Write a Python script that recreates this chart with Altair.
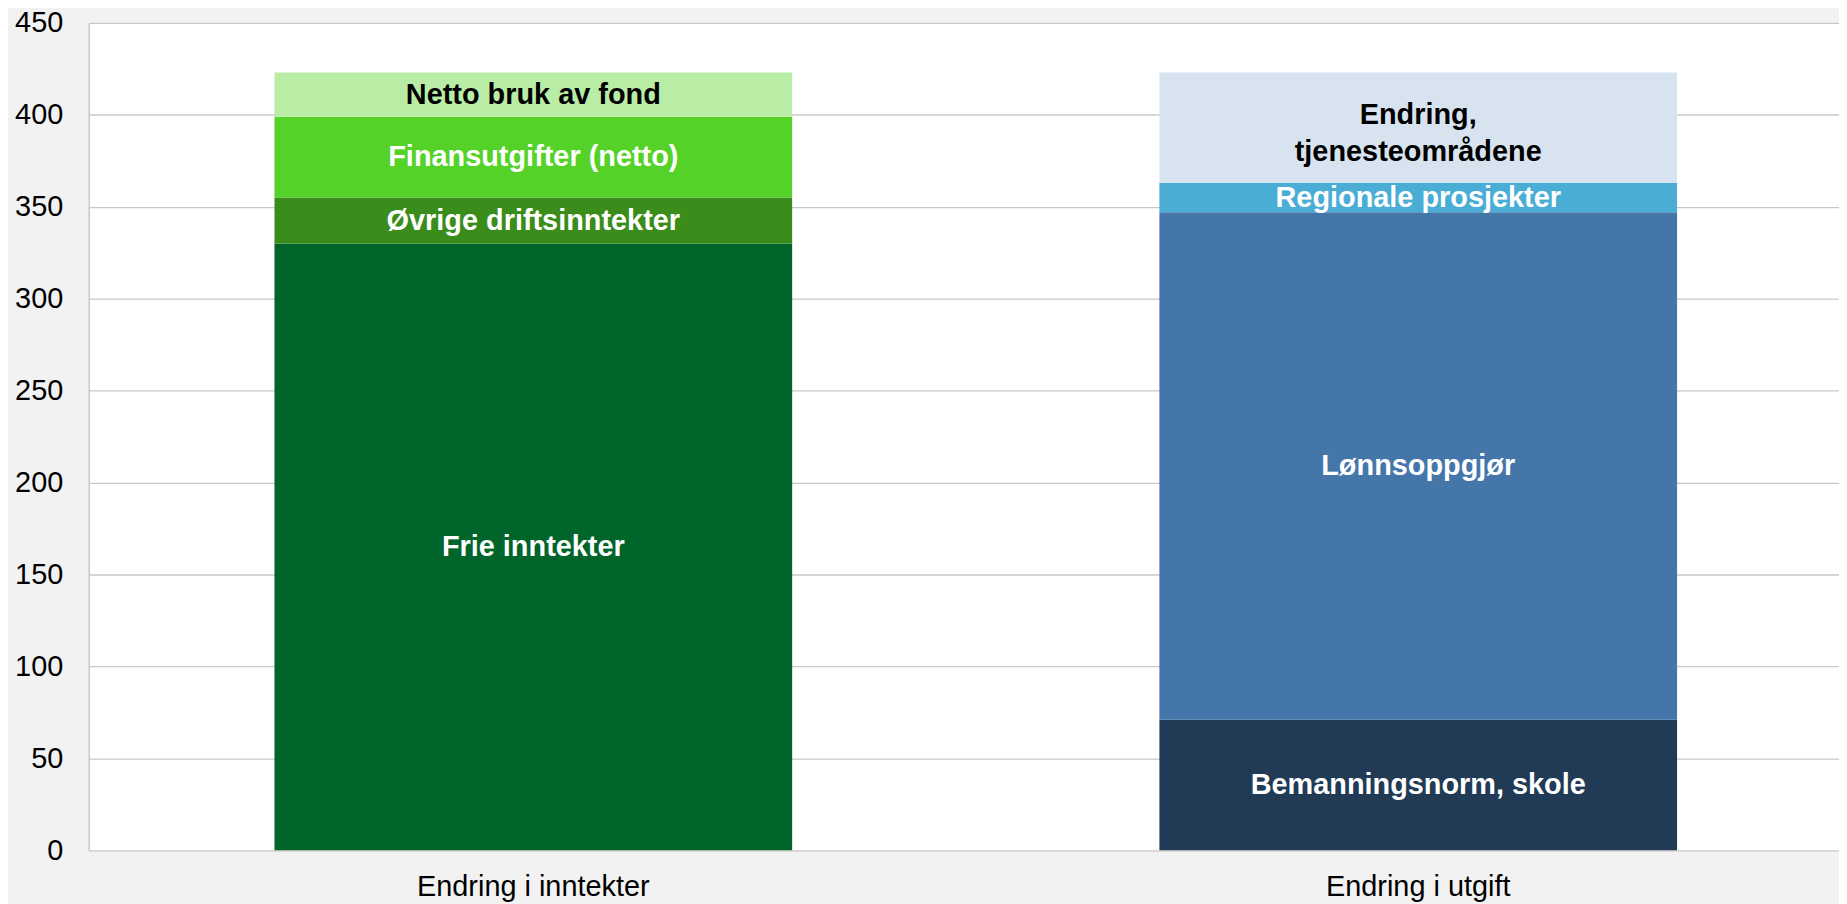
import altair as alt
import pandas as pd

categories = ["Endring i inntekter"] * 4 + ["Endring i utgift"] * 4
segments = [
    "Frie inntekter",
    "Øvrige driftsinntekter",
    "Finansutgifter (netto)",
    "Netto bruk av fond",
    "Bemanningsnorm, skole",
    "Lønnsoppgjør",
    "Regionale prosjekter",
    "Endring,\ntjenesteområdene",
]
values = [330, 25, 44, 24, 71, 276, 16, 60]
stack_order = [1, 2, 3, 4, 1, 2, 3, 4]
seg_colors = ["#00652a", "#3a8c1b", "#55d228", "#b9eda6",
              "#213a55", "#4476aa", "#49add6", "#d7e3ef"]
label_colors = ["#ffffff", "#ffffff", "#ffffff", "#000000",
                "#ffffff", "#ffffff", "#ffffff", "#000000"]
cat_order = ["Endring i inntekter", "Endring i utgift"]
y_ticks = [0, 50, 100, 150, 200, 250, 300, 350, 400, 450]

df = pd.DataFrame({
    "category": categories,
    "segment": segments,
    "value": values,
    "order": stack_order,
    "labelcolor": label_colors,
})

FONT = "Liberation Sans"

base = alt.Chart(df).transform_stack(
    stack="value",
    groupby=["category"],
    as_=["y0", "y1"],
    sort=[alt.SortField("order", order="ascending")],
).transform_calculate(mid="(datum.y0 + datum.y1) / 2")

x_enc = alt.X(
    "category:N",
    sort=cat_order,
    scale=alt.Scale(range=[0, 1782], paddingInner=0.415, paddingOuter=0.21),
    axis=alt.Axis(
        title=None, labelAngle=0, ticks=False, grid=False,
        domain=True, domainColor="#ddd6d2", domainWidth=1.5,
        labelFont=FONT, labelFontSize=29, labelColor="#000000",
        labelPadding=22, labelLimit=0,
    ),
)

bars = base.mark_bar().encode(
    x=x_enc,
    y=alt.Y(
        "y0:Q",
        scale=alt.Scale(domain=[0, 450], nice=False, zero=True),
        axis=alt.Axis(
            title=None, values=y_ticks, ticks=False,
            grid=True, gridColor="#c8c8c8", gridWidth=1.3,
            domain=True, domainColor="#c8c8c8", domainWidth=1.5,
            labelFont=FONT, labelFontSize=29, labelColor="#000000",
            labelPadding=26,
        ),
    ),
    y2="y1:Q",
    color=alt.Color("segment:N", scale=alt.Scale(domain=segments, range=seg_colors), legend=None),
)

text_enc = dict(
    x=alt.X("category:N", sort=cat_order),
    y=alt.Y("mid:Q"),
    text="segment:N",
    color=alt.Color("labelcolor:N", scale=None),
)

labels_single = base.transform_filter(
    "indexof(datum.segment, '\\n') < 0"
).mark_text(
    font=FONT, fontSize=29, fontWeight="bold",
    baseline="middle", align="center",
).encode(**text_enc)

labels_multi = base.transform_filter(
    "indexof(datum.segment, '\\n') >= 0"
).mark_text(
    font=FONT, fontSize=29, fontWeight="bold",
    baseline="middle", align="center", lineBreak="\n", lineHeight=37, dy=-13,
).encode(**text_enc)

chart = alt.layer(bars, labels_single, labels_multi).resolve_scale(color="independent").properties(
    width=1758,
    height=831,
    autosize="none",
    padding={"left": 81, "top": 13, "right": 0, "bottom": 60},
    background="#f2f2f2",
).configure_view(fill="#ffffff", strokeWidth=0)

chart.save("out.html", embed_options={"renderer": "svg", "actions": False})
